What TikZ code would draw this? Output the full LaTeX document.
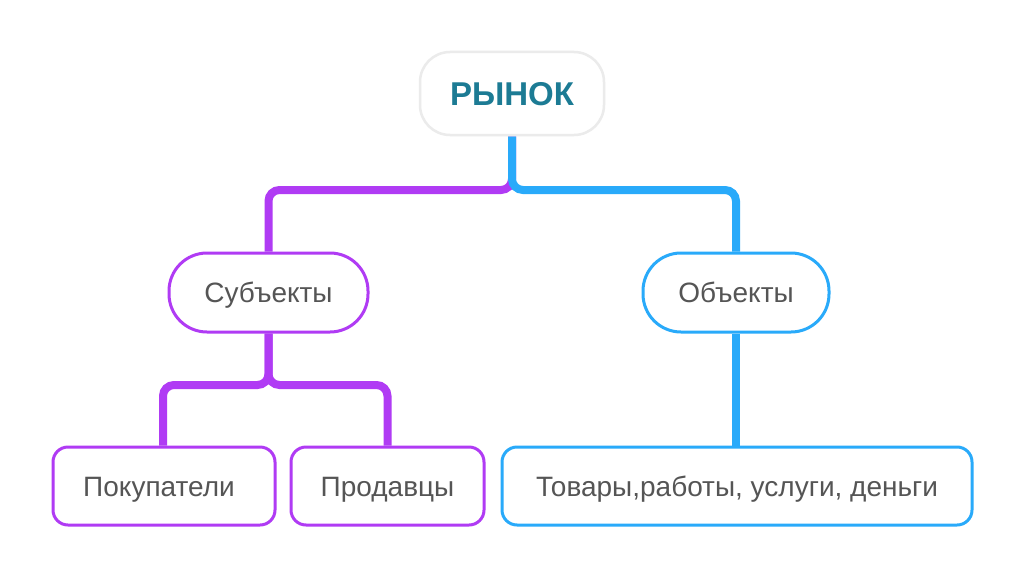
\documentclass[tikz,border=0pt]{standalone}
\usepackage{fontspec}
\setmainfont{Liberation Sans}
\usetikzlibrary{backgrounds}
\definecolor{purp}{HTML}{B03BF4}
\definecolor{blu}{HTML}{29AAFA}
\definecolor{teal1}{HTML}{1C7B94}
\definecolor{txtgray}{HTML}{555555}
\definecolor{lightbd}{HTML}{EBEBEB}
\begin{document}
\begin{tikzpicture}[x=1pt,y=-1pt,
  box/.style={draw, line width=3pt, fill=white, inner sep=0pt, text=txtgray,
    text height=20pt, text depth=0pt,
    font=\fontsize{28}{33}\selectfont},
  purpbox/.style={box, draw=purp},
  blubox/.style={box, draw=blu},
  conn/.style={line width=8pt, rounded corners=11pt},
]
\useasboundingbox (0,0) rectangle (1024,578);

\node[box, draw=lightbd, line width=2.5pt, rounded corners=30pt, minimum width=184pt, minimum height=83pt,
  text=teal1, text height=24pt, text depth=0pt, font=\fontsize{33}{38}\selectfont\bfseries] (rynok) at (512,93.5) {РЫНОК};
\node[purpbox, rounded corners=38pt, minimum width=199pt, minimum height=79pt] (subj) at (268.5,292.5) {Субъекты};
\node[blubox, rounded corners=38pt, minimum width=186pt, minimum height=79pt] (obj) at (736,292.5) {Объекты};
\node[purpbox, rounded corners=15pt, minimum width=222pt, minimum height=78pt] (pok) at (164,486) {Покупатели\hspace*{10pt}};
\node[purpbox, rounded corners=15pt, minimum width=193pt, minimum height=78pt] (prod) at (387.5,486) {Продавцы};
\node[blubox, rounded corners=15pt, minimum width=470pt, minimum height=78pt] (tov) at (737,486) {Товары,работы, услуги, деньги};

\coordinate (j1) at (512,190);
\coordinate (j2) at (268.5,385);

\begin{scope}[on background layer]
\fill[white] (0,0) rectangle (1024,578);
\draw[conn, purp] (rynok.south) -- (j1) -| (subj.north);
\draw[conn, blu] (rynok.south) -- (j1) -| (obj.north);
\draw[conn, purp] (subj.south) -- (j2) -| (pok.north -| 163,0);
\draw[conn, purp] (subj.south) -- (j2) -| (prod.north);
\draw[conn, blu] (obj.south) -- (tov.north -| obj.south);
\end{scope}
\end{tikzpicture}
\end{document}
